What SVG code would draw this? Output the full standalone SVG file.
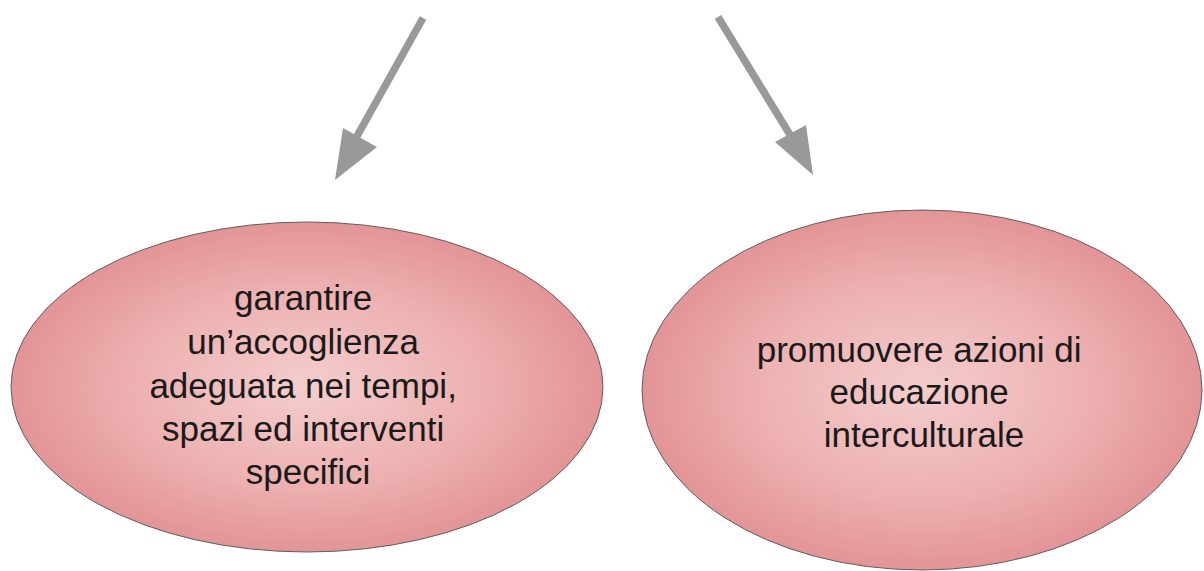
<svg xmlns="http://www.w3.org/2000/svg" width="1204" height="571" viewBox="0 0 1204 571">
  <style>
    .node ellipse { stroke: #5f5f5f; stroke-width: 1; }
    .label { font-family: "Liberation Sans", Arial, sans-serif; font-size: 35px; fill: #1a1a1a; text-anchor: middle; }
    .edge { stroke: #999999; stroke-width: 7.5; fill: none; }
    .head { fill: #999999; }
  </style>
  <defs>
    <radialGradient id="pinkFill" cx="50%" cy="50%" r="50%">
      <stop offset="0" stop-color="#f4cdcd"/>
      <stop offset="0.6" stop-color="#edb0b0"/>
      <stop offset="1" stop-color="#e39496"/>
    </radialGradient>
  </defs>

  <g id="connectors">
    <line class="edge" x1="423" y1="18" x2="356" y2="138"/>
    <polygon class="head" points="335,180 343,128 377,147"/>
    <line class="edge" x1="718" y1="17" x2="792" y2="138"/>
    <polygon class="head" points="813,175 775,142 806,125"/>
  </g>

  <g id="node-accoglienza" class="node">
    <ellipse cx="307" cy="387" rx="296" ry="165" fill="url(#pinkFill)"/>
    <text class="label">
      <tspan x="308" y="310">garantire</tspan>
      <tspan x="308" y="354">un’accoglienza</tspan>
      <tspan x="308" y="398">adeguata nei tempi,</tspan>
      <tspan x="308" y="441">spazi ed interventi</tspan>
      <tspan x="308" y="484">specifici</tspan>
    </text>
  </g>

  <g id="node-intercultura" class="node">
    <ellipse cx="922" cy="390" rx="280" ry="180" fill="url(#pinkFill)"/>
    <text class="label">
      <tspan x="924" y="362">promuovere azioni di</tspan>
      <tspan x="924" y="404">educazione</tspan>
      <tspan x="924" y="447">interculturale</tspan>
    </text>
  </g>
</svg>
